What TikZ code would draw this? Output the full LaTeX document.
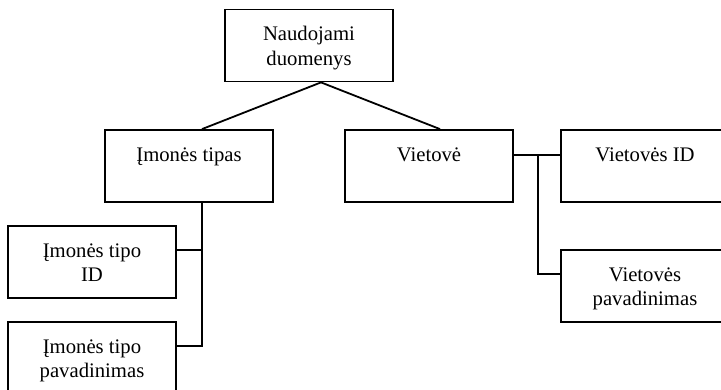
\documentclass[tikz,border=0pt]{standalone}
\usepackage{fontspec}
\setmainfont{Liberation Serif}
\begin{document}
\begin{tikzpicture}[x=1pt,y=-1pt,
  box/.style={draw, line width=1.8pt, rectangle, inner sep=0pt,
    minimum width=168pt, minimum height=72pt},
  caption/.style={anchor=north, align=center, inner sep=0pt,
    font=\fontsize{20.7}{24.5}\selectfont},
  link/.style={line width=1.8pt}]
\clip (0,0) rectangle (721,390);

% boxes
\node[box] (root) at (309,45.5) {};
\node[box] (typ)  at (189,166) {};
\node[box] (viet) at (429,166) {};
\node[box] (vid)  at (645,166) {};
\node[box] (vpav) at (645,286) {};
\node[box] (tid)  at (92,262) {};
\node[box] (tpav) at (92,358) {};

% captions, set from the top edge of each box
\node[caption] (rootT) at ([yshift=-14.85pt]root.north) {\strut Naudojami\\duomenys};
\node[caption] (typT)  at ([yshift=-14.85pt]typ.north)  {\strut Įmonės tipas};
\node[caption] (vietT) at ([yshift=-14.85pt]viet.north) {\strut Vietovė};
\node[caption] (vidT)  at ([yshift=-14.85pt]vid.north)  {\strut Vietovės ID};
\node[caption] (vpavT) at ([yshift=-14.85pt]vpav.north) {\strut Vietovės\\pavadinimas};
\node[caption] (tidT)  at ([yshift=-14.85pt]tid.north)  {\strut Įmonės tipo\\ID};
\node[caption] (tpavT) at ([yshift=-14.85pt]tpav.north) {\strut Įmonės tipo\\pavadinimas};

% connectors
\coordinate (apex) at ([xshift=12pt]root.south);
\draw[link] ([xshift=13pt]typ.north) -- (apex) -- ([xshift=11pt]viet.north);

\coordinate (lspine) at ([xshift=13pt]typ.south);
\draw[link] (lspine) |- ([yshift=12pt]tpav.east);
\draw[link] ([yshift=12pt]tid.east) -- ([yshift=12pt]tid.east -| lspine);

\coordinate (rspine) at ([xshift=24pt,yshift=11pt]viet.east);
\draw[link] ([yshift=11pt]viet.east) -- ([yshift=11pt]vid.west);
\draw[link] (rspine) |- ([yshift=12pt]vpav.west);
\end{tikzpicture}
\end{document}
